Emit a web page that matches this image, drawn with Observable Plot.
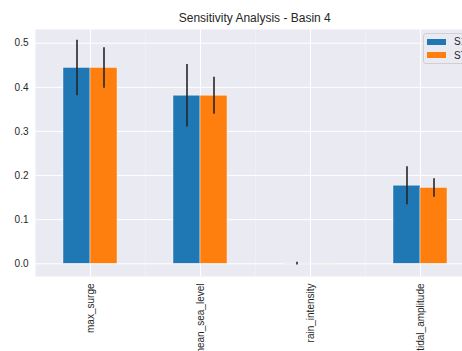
<!DOCTYPE html>
<html>
<head>
<meta charset="utf-8">
<script src="https://cdn.jsdelivr.net/npm/d3@7"></script>
<script src="https://cdn.jsdelivr.net/npm/@observablehq/plot@0.6"></script>
<style>
  html, body { margin: 0; padding: 0; background: #fff; overflow: hidden; }
  #wrap { position: relative; width: 462px; height: 351px; overflow: hidden; font-family: "Liberation Sans", Arial, sans-serif; }
  #title { position: absolute; left: 34px; width: 441.5px; top: 11px; text-align: center; font-size: 12px; color: #262626; }
  #chart { position: absolute; left: 0; top: 0; width: 476px; }
  #chart svg { max-width: none !important; }
  #legend { position: absolute; left: 423px; top: 33px; width: 60px; height: 29px; background: rgba(234,234,242,0.8); border: 1px solid #d0d0d0; border-radius: 3px; font-size: 10px; color: #262626; }
  .li { position: absolute; left: 3px; display: flex; align-items: center; }
  .sw { width: 19px; height: 6px; margin-right: 8px; }
</style>
</head>
<body>
<div id="wrap">
  <div id="chart"></div>
  <div id="title">Sensitivity Analysis - Basin 4</div>
  <div id="legend"></div>
</div>
<script>
const params = ["max_surge", "mean_sea_level", "rain_intensity", "tidal_amplitude"];
const seriesNames = ["S1", "ST"];
const seriesColors = ["#1f77b4", "#ff7f0e"];
const s1Values = [0.444, 0.381, 0.0003, 0.177];
const s1Errors = [0.063, 0.071, 0.003, 0.043];
const stValues = [0.444, 0.381, 0.0002, 0.172];
const stErrors = [0.046, 0.042, 0.0, 0.021];
const yTicks = [0.0, 0.1, 0.2, 0.3, 0.4, 0.5];

const rows = params.flatMap((p, i) => [
  {param: p, series: seriesNames[0], value: s1Values[i], err: s1Errors[i]},
  {param: p, series: seriesNames[1], value: stValues[i], err: stErrors[i]}
]);

const chart = Plot.plot({
  width: 476,
  height: 351,
  marginLeft: 34,
  marginRight: 0.5,
  marginTop: 29,
  marginBottom: 75,
  style: {fontFamily: "'Liberation Sans', Arial, sans-serif", fontSize: "10px", color: "#262626", background: "transparent", maxWidth: "none"},
  fx: {domain: params, padding: 0, label: null},
  x: {domain: seriesNames, paddingInner: 0, paddingOuter: 1, axis: null},
  y: {domain: [-0.0288, 0.5311], label: null},
  color: {domain: seriesNames, range: seriesColors},
  marks: [
    Plot.frame({fill: "#eaeaf2", stroke: null}),
    Plot.gridY(yTicks, {stroke: "white", strokeOpacity: 1, strokeWidth: 1}),
    Plot.gridFx({stroke: "white", strokeOpacity: 1, strokeWidth: 1}),
    Plot.barY(rows, {fx: "param", x: "series", y: "value", fill: "series", stroke: "white", strokeWidth: 0.6, strokeOpacity: 0.7}),
    Plot.ruleX(rows.filter(d => d.err > 0), {fx: "param", x: "series", y1: d => d.value - d.err, y2: d => d.value + d.err, stroke: "#262626", strokeWidth: 1.6}),
    Plot.axisY(yTicks, {tickSize: 0, tickPadding: 7, tickFormat: d3.format(".1f"), label: null, fill: "#262626"}),
    Plot.axisFx({anchor: "bottom", tickSize: 0, tickPadding: 7, tickRotate: -90, label: null, fill: "#262626"})
  ]
});
document.getElementById("chart").appendChild(chart);

const legend = document.getElementById("legend");
seriesNames.forEach((s, i) => {
  const item = document.createElement("div");
  item.className = "li";
  item.style.top = (2 + i * 13.5) + "px";
  item.innerHTML = `<span class="sw" style="background:${seriesColors[i]}"></span><span>${s}</span>`;
  legend.appendChild(item);
});
</script>
</body>
</html>
